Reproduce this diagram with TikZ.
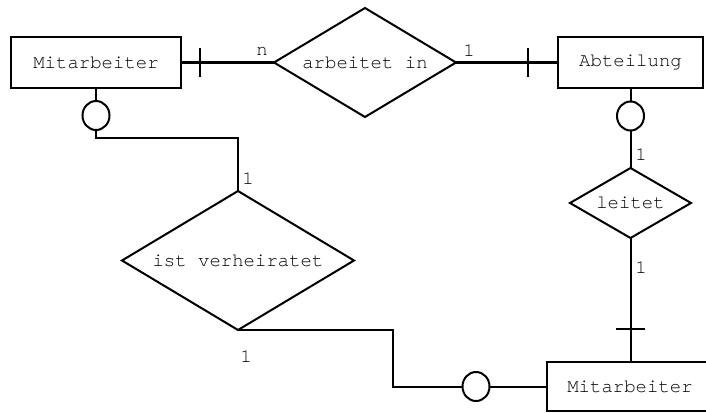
\documentclass[tikz,border=0pt]{standalone}
\usepackage{fontspec}
\newfontfamily\erfont{texgyrecursor-regular.otf}
\usetikzlibrary{shapes.geometric,decorations.markings}
\tikzset{
  tickat/.style={postaction={decorate,decoration={markings,
      mark=at position #1 with {\draw[line width=2pt] (0,-14.5pt) -- (0,14.5pt);}}}},
}
\begin{document}
\begin{tikzpicture}[x=1pt,y=-1pt,line width=2pt,
  every node/.style={font=\erfont\fontsize{19}{21}\selectfont},
  entity/.style={draw,rectangle,inner sep=0pt,outer sep=0pt},
  rel/.style={draw,diamond,aspect=1.7,inner sep=0pt,outer sep=0pt},
  opt/.style={draw,ellipse,inner sep=0pt,outer sep=0pt,minimum width=27pt,minimum height=29pt},
  lbl/.style={inner sep=0pt}]
\useasboundingbox (0,0) rectangle (706,412);
\node[entity,minimum width=170pt,minimum height=51pt] (mit1) at (96,62.5) {Mitarbeiter};
\node[entity,minimum width=145pt,minimum height=51pt] (abt) at (630.5,62.5) {Abteilung};
\node[entity,minimum width=166pt,minimum height=49pt] (mit2) at (630,386.5) {Mitarbeiter};
\node[rel,minimum width=182pt,minimum height=109pt] (arb) at (365,62.5) {arbeitet in};
\node[rel,minimum width=232pt,minimum height=139pt] (ver) at (238,260.5) {ist verheiratet};
\node[rel,minimum width=121pt,minimum height=70pt] (lei) at (630.5,203) {leitet};
\node[opt] (c1) at (96,115.5) {};
\node[opt] (c2) at (630.5,116) {};
\node[opt] (c3) at (476,386.5) {};
\coordinate (k1) at (96,138);
\coordinate (k2) at (393,330);
\draw[tickat=19pt] (mit1.east) -- (arb.west);
\draw[tickat=-30pt] (arb.east) -- (abt.west);
\draw (mit1.south) -- (c1.north);
\draw (c1.south) -- (k1) -| (ver.north);
\draw (ver.south) -- (k2) |- (c3.west);
\draw (c3.east) -- (mit2.west);
\draw (abt.south) -- (c2.north);
\draw (c2.south) -- (lei.north);
\draw[tickat=-33pt] (lei.south) -- (lei.south |- mit2.north);
\node[lbl] (ln) at (262,51) {n};
\node[lbl] (la) at (469,50.5) {1};
\node[lbl] (lv1) at (248,178.5) {1};
\node[lbl] (lv2) at (246,357) {1};
\node[lbl] (ll1) at (641,154.5) {1};
\node[lbl] (ll2) at (641,267.5) {1};
\end{tikzpicture}
\end{document}
